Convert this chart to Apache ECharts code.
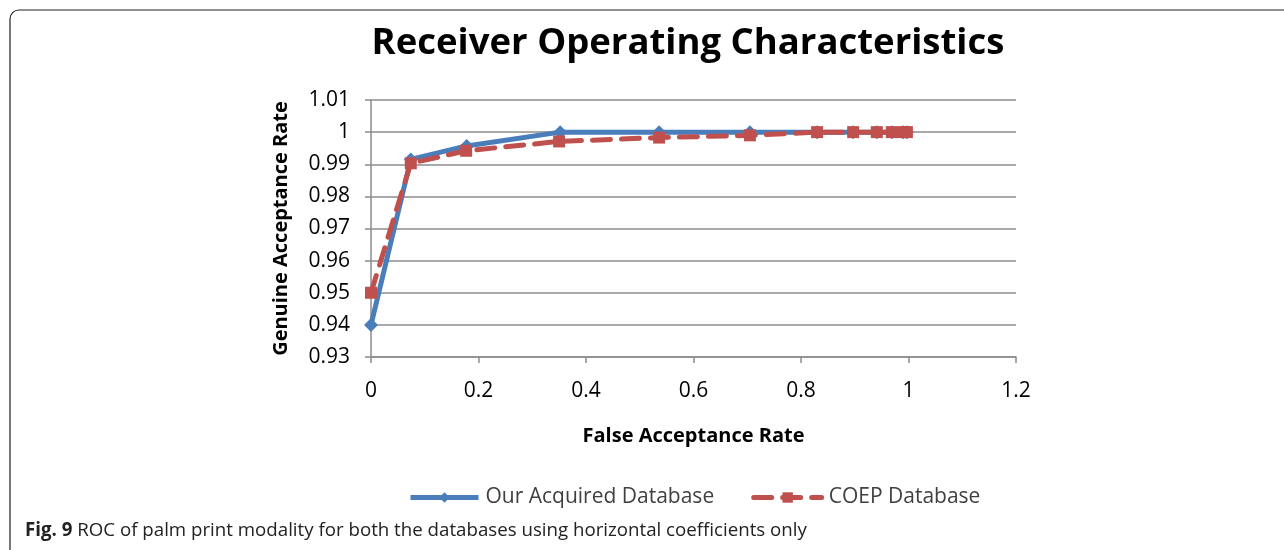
<!DOCTYPE html>
<html>
<head>
<meta charset="utf-8">
<script src="https://cdn.jsdelivr.net/npm/echarts@6/dist/echarts.min.js"></script>
<style>html,body{margin:0;padding:0;background:#fff}#c{width:1284px;height:550px}</style>
</head>
<body>
<div id="c"></div>
<script>
const ourFAR = [0, 0.074, 0.178, 0.352, 0.536, 0.705, 0.830, 0.897, 0.941, 0.969, 0.990, 0.997];
const ourGAR = [0.94, 0.9915, 0.9957, 1.0, 1.0, 1.0, 1.0, 1.0, 1.0, 1.0, 1.0, 1.0];
const coepFAR = [0, 0.074, 0.177, 0.350, 0.536, 0.705, 0.830, 0.897, 0.941, 0.969, 0.990, 0.997];
const coepGAR = [0.95, 0.9903, 0.9942, 0.9971, 0.9983, 0.999, 1.0, 1.0, 1.0, 1.0, 1.0, 1.0];
const xTicks = ['0', '0.2', '0.4', '0.6', '0.8', '1', '1.2'];
const seriesNames = ['Our Acquired Database', 'COEP Database'];
const titleText = 'Receiver Operating Characteristics';
const xName = 'False Acceptance Rate';
const yName = 'Genuine Acceptance Rate';

const font = '"Open Sans", "Noto Sans", sans-serif';
const chart = echarts.init(document.getElementById('c'), null, {renderer: 'canvas'});
const pair = (xs, ys) => xs.map((x, i) => [x, ys[i]]);
chart.setOption({
  animation: false,
  backgroundColor: '#fff',
  title: {
    text: titleText, left: 683, top: 20, textAlign: 'center',
    textStyle: {fontFamily: font, fontSize: 36.5, fontWeight: 'bold', color: '#000'}
  },
  grid: {left: 371, right: 268, top: 100, bottom: 193, containLabel: false},
  xAxis: {
    type: 'value', min: 0, max: 1.2, interval: 0.2,
    name: xName, nameLocation: 'middle', nameGap: 69,
    nameTextStyle: {fontFamily: font, fontSize: 20, fontWeight: 'bold', color: '#000'},
    axisLine: {show: true, lineStyle: {color: '#8c8c8c', width: 1.5}},
    axisTick: {show: true, length: 6, lineStyle: {color: '#8c8c8c', width: 1.5}},
    axisLabel: {fontFamily: font, fontSize: 21, color: '#000', margin: 24,
      formatter: (v) => xTicks[Math.round(v / 0.2)]},
    splitLine: {show: false}
  },
  yAxis: {
    type: 'value', min: 0.93, max: 1.01, interval: 0.01,
    name: yName, nameLocation: 'middle', nameGap: 80, nameRotate: 90,
    nameTextStyle: {fontFamily: font, fontSize: 20, fontWeight: 'bold', color: '#000'},
    axisLine: {show: true, lineStyle: {color: '#8c8c8c', width: 1.5}},
    axisTick: {show: true, length: 6, lineStyle: {color: '#8c8c8c', width: 1.5}},
    axisLabel: {fontFamily: font, fontSize: 21, color: '#000', margin: 21,
      formatter: (v) => String(parseFloat(v.toFixed(2)))},
    splitLine: {show: true, lineStyle: {color: '#8c8c8c', width: 1.5}}
  },
  legend: {
    bottom: 37, left: 403, itemGap: 37, itemWidth: 68, itemHeight: 13,
    textStyle: {fontFamily: font, fontSize: 21, color: '#404040', padding: [0, 0, 0, 2]},
    lineStyle: {width: 5},
    data: seriesNames
  },
  series: [
    {
      name: seriesNames[0], type: 'line', data: pair(ourFAR, ourGAR),
      symbol: 'diamond', symbolSize: 14, z: 2,
      lineStyle: {color: '#4a7ebb', width: 5},
      itemStyle: {color: '#4a7ebb'}
    },
    {
      name: seriesNames[1], type: 'line', data: pair(coepFAR, coepGAR),
      symbol: 'rect', symbolSize: 12, z: 3,
      lineStyle: {color: '#c0504d', width: 5, type: [18, 11], cap: 'round'},
      itemStyle: {color: '#c0504d'}
    }
  ],
  graphic: [
    {type: 'rect', shape: {x: 10, y: 10, width: 1400, height: 700, r: 9},
      style: {fill: 'none', stroke: '#222', lineWidth: 1.2}, z: 10},
    {type: 'text', left: 25, top: 521,
      style: {text: '{b|Fig. 9} ROC of palm print modality for both the databases using horizontal coefficients only',
        rich: {b: {fontWeight: 'bold', fontFamily: font, fontSize: 18.7, fill: '#222'}},
        font: '18.7px "Open Sans", sans-serif', fill: '#222'}}
  ]
});
</script>
</body>
</html>
